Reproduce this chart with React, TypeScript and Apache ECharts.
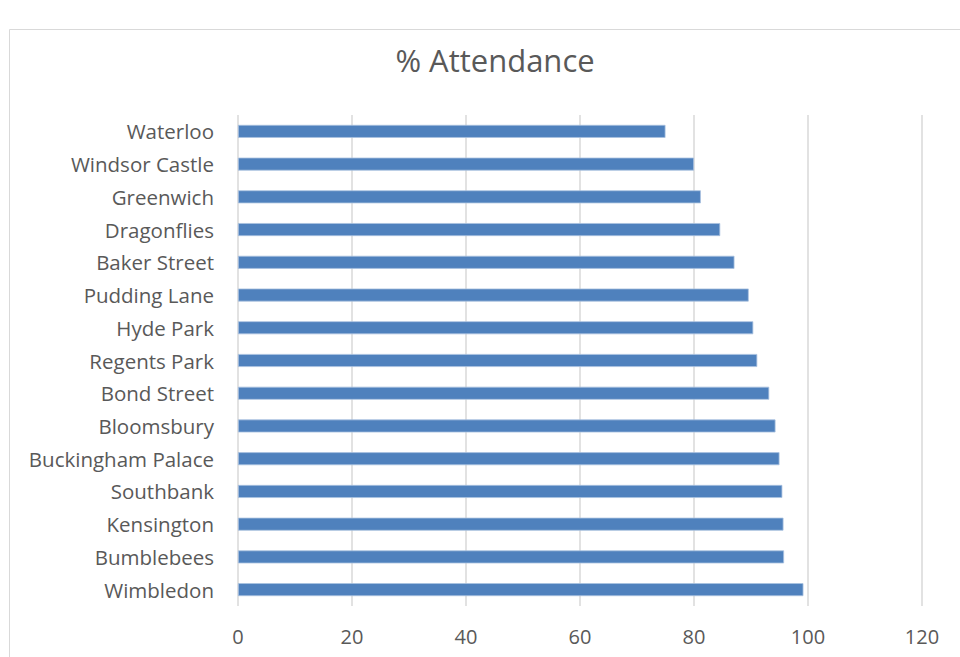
import React, { useEffect, useRef } from "react";
import * as echarts from "echarts";

const categories = [
  "Wimbledon",
  "Bumblebees",
  "Kensington",
  "Southbank",
  "Buckingham Palace",
  "Bloomsbury",
  "Bond Street",
  "Regents Park",
  "Hyde Park",
  "Pudding Lane",
  "Baker Street",
  "Dragonflies",
  "Greenwich",
  "Windsor Castle",
  "Waterloo",
];
const attendance = [99.2, 95.8, 95.7, 95.5, 95.0, 94.3, 93.2, 91.1, 90.4, 89.6, 87.1, 84.6, 81.2, 80.0, 75.0];
const xTicks = { min: 0, max: 120, interval: 20 };
const titleText = "% Attendance";

export default function App() {
  const ref = useRef<HTMLDivElement>(null);
  useEffect(() => {
    if (!ref.current) return;
    const chart = echarts.init(ref.current, undefined, { renderer: "svg" });
    const font = "'Open Sans', 'Noto Sans', sans-serif";
    chart.setOption({
      animation: false,
      backgroundColor: "#ffffff",
      title: {
        text: titleText,
        left: 490,
        top: 39,
        textAlign: "center",
        textStyle: { color: "#595959", fontSize: 31, fontWeight: "normal", fontFamily: font },
      },
      graphic: [
        {
          type: "rect",
          shape: { x: 9.5, y: 29.5, width: 1000, height: 700 },
          style: { fill: "none", stroke: "#d9d9d9", lineWidth: 1 },
          silent: true,
        },
      ],
      grid: { left: 238, right: 38, top: 115, bottom: 51, containLabel: false },
      xAxis: {
        type: "value",
        min: xTicks.min,
        max: xTicks.max,
        interval: xTicks.interval,
        axisLine: { show: false },
        axisTick: { show: false },
        splitLine: { show: true, lineStyle: { color: "#d9d9d9", width: 1.5 } },
        axisLabel: { color: "#595959", fontSize: 20, fontFamily: font, margin: 20 },
      },
      yAxis: {
        type: "category",
        data: categories,
        axisLine: { show: false },
        axisTick: { show: false },
        axisLabel: { color: "#595959", fontSize: 20.5, fontFamily: font, margin: 24 },
      },
      series: [
        {
          type: "bar",
          data: attendance,
          barWidth: 13,
          itemStyle: { color: "#4F81BD", borderColor: "#a9c1e0", borderWidth: 0.8 },
        },
      ],
    });
    return () => chart.dispose();
  }, []);
  return (
    <div
      ref={ref}
      style={{ position: "fixed", left: 0, top: 0, width: 960, height: 657 }}
    />
  );
}
